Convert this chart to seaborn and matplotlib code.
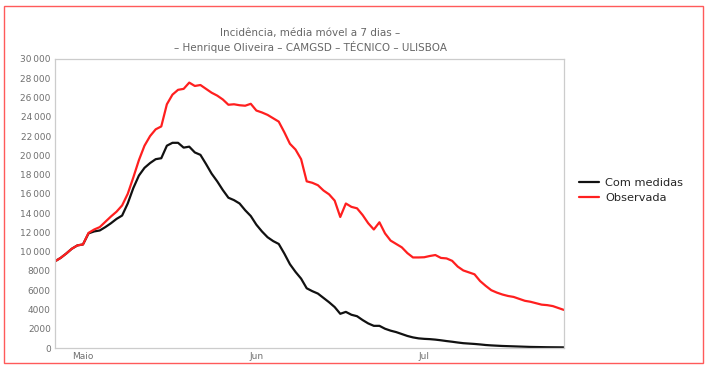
import matplotlib
matplotlib.use("Agg")
import matplotlib.pyplot as plt
import matplotlib.ticker as mticker
from matplotlib.patches import Rectangle
from matplotlib.lines import Line2D
import seaborn as sns
import pandas as pd
import numpy as np

start_date = "2020-04-26"
com_medidas = [9000, 9350, 9800, 10300, 10650, 10750, 11900, 12100, 12200, 12550,
               12950, 13400, 13750, 15000, 16600, 17900, 18700, 19200, 19600, 19700,
               21000, 21300, 21300, 20800, 20900, 20300, 20050, 19100, 18100, 17300,
               16400, 15600, 15350, 15000, 14300, 13700, 12800, 12100, 11500, 11100,
               10800, 9800, 8700, 7900, 7200, 6200, 5900, 5650, 5200, 4750,
               4250, 3550, 3750, 3450, 3300, 2900, 2550, 2300, 2300, 2000,
               1800, 1650, 1450, 1250, 1100, 1000, 950, 920, 870, 800,
               720, 650, 570, 500, 460, 420, 370, 310, 270, 240,
               210, 190, 170, 150, 130, 110, 100, 90, 80, 75,
               70, 65]
observada = [9000, 9350, 9800, 10300, 10650, 10750, 11950, 12300, 12550, 13100,
             13650, 14150, 14800, 16000, 17700, 19500, 21000, 22000, 22700, 23000,
             25300, 26300, 26800, 26900, 27550, 27200, 27300, 26900, 26500, 26200,
             25800, 25250, 25300, 25200, 25150, 25350, 24650, 24450, 24200, 23850,
             23500, 22400, 21200, 20600, 19600, 17300, 17150, 16900, 16350, 15950,
             15300, 13600, 15000, 14650, 14500, 13800, 12950, 12300, 13050, 11900,
             11150, 10800, 10450, 9850, 9400, 9400, 9420, 9550, 9650, 9350,
             9300, 9050, 8450, 8050, 7850, 7650, 6950, 6450, 6000, 5750,
             5550, 5400, 5300, 5100, 4900, 4800, 4650, 4500, 4450, 4350,
             4150, 3950]
series_names = ["Com medidas", "Observada"]
series_colors = ["#111111", "#ff1f1f"]
tick_dates = ["2020-05-01", "2020-06-01", "2020-07-01"]
tick_labels = ["Maio", "Jun", "Jul"]
title_lines = ["Incidência, média móvel a 7 dias –",
               "– Henrique Oliveira – CAMGSD – TÉCNICO – ULISBOA"]

dates = pd.date_range(start_date, periods=len(observada))
df = pd.DataFrame({
    "date": list(dates) * 2,
    "value": com_medidas + observada,
    "serie": [series_names[0]] * len(dates) + [series_names[1]] * len(dates),
})

sns.set_style("white")
plt.rcParams["font.family"] = ["DejaVu Sans"]

fig = plt.figure(figsize=(7.13, 3.70), dpi=100)
ax = fig.add_axes([55 / 713, 1 - 348 / 370, (564 - 55) / 713, (348 - 59) / 370])

sns.lineplot(data=df, x="date", y="value", hue="serie",
             hue_order=series_names, palette=series_colors,
             linewidth=1.6, ax=ax, legend=False)

ax.set_xlim(dates[0], dates[-1])
ax.set_ylim(0, 30000)
ax.set_yticks(np.arange(0, 30001, 2000))

def yfmt(v, pos):
    v = int(round(v))
    if v >= 10000:
        return f"{v // 1000}\u2009{v % 1000:03d}"
    return str(v)

ax.yaxis.set_major_formatter(mticker.FuncFormatter(yfmt))
ax.set_xticks(pd.to_datetime(tick_dates))
ax.set_xticklabels(tick_labels)
ax.set_xlabel("")
ax.set_ylabel("")

for s in ax.spines.values():
    s.set_visible(True)
    s.set_color("#cccccc")
    s.set_linewidth(0.9)

ax.tick_params(axis="x", direction="in", length=4, width=0.8, color="#bbbbbb",
               labelsize=6.5, labelcolor="#707070", pad=3)
ax.tick_params(axis="y", length=0, labelsize=6.5, labelcolor="#707070", pad=3)

fig.text(310 / 713, 1 - 33 / 370, title_lines[0], ha="center", va="center",
         fontsize=7.5, color="#666666")
fig.text(310 / 713, 1 - 47 / 370, title_lines[1], ha="center", va="center",
         fontsize=7.5, color="#666666")

handles = [Line2D([], [], color=c, linewidth=1.6) for c in series_colors]
fig.legend(handles, series_names, loc="upper left",
           bbox_to_anchor=(577 / 713, 1 - 176 / 370), frameon=False,
           fontsize=8.2, handlelength=1.7, handletextpad=0.6, labelspacing=0.45,
           borderaxespad=0, borderpad=0.2)

fig.patches.append(Rectangle((4 / 713, 1 - 363 / 370), (703 - 4) / 713, (363 - 6) / 370,
                             transform=fig.transFigure, fill=False,
                             edgecolor="#ff5a5a", linewidth=1.0))

fig.savefig("out.png", dpi=100)
